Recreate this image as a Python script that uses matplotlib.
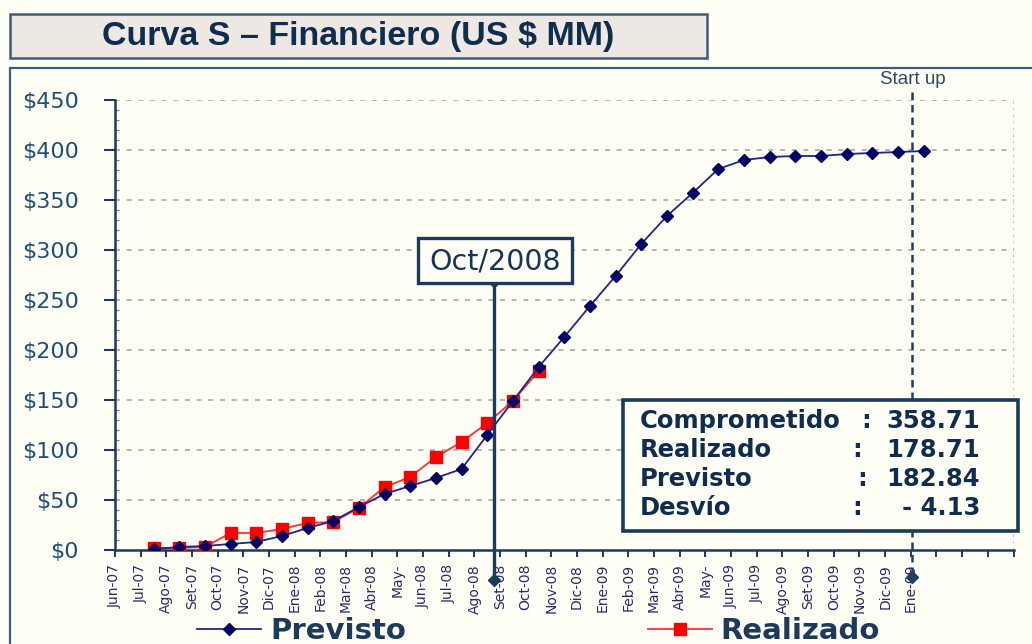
import matplotlib
matplotlib.use('Agg')
import matplotlib.pyplot as plt
from matplotlib.patches import Rectangle

# ---------------- data ----------------
months = ["Jun-07", "Jul-07", "Ago-07", "Set-07", "Oct-07", "Nov-07", "Dic-07",
          "Ene-08", "Feb-08", "Mar-08", "Abr-08", "May-", "Jun-08", "Jul-08",
          "Ago-08", "Set-08", "Oct-08", "Nov-08", "Dic-08", "Ene-09", "Feb-09",
          "Mar-09", "Abr-09", "May-", "Jun-09", "Jul-09", "Ago-09", "Set-09",
          "Oct-09", "Nov-09", "Dic-09", "Ene-09"]
previsto = [1, 3, 4, 6, 8, 14, 22, 29, 43, 56, 64, 72, 81, 115, 149, 182.84,
            213, 244, 274, 306, 334, 357, 381, 390, 393, 394, 394, 396, 397, 398, 399]
realizado = [2, 2, 3, 17, 17, 21, 27, 28, 42, 63, 73, 93, 108, 127, 149, 178.71]
y_ticks = [0, 50, 100, 150, 200, 250, 300, 350, 400, 450]
info_labels = ["Comprometido", "Realizado", "Previsto", "Desvío"]
info_values = ["358.71", "178.71", "182.84", "- 4.13"]
title = "Curva S – Financiero (US $ MM)"
callout_label = "Oct/2008"
startup_label = "Start up"

# ---------------- layout helpers ----------------
W, H = 1032, 644
def fx(x):
    return x / W
def fy(y):
    return 1 - y / H

BG = "#FFFFF6"
NAVY = "#1B3A5C"
fig = plt.figure(figsize=(W / 100, H / 100), dpi=100, facecolor=BG)

# outer frame
fig.patches.append(Rectangle((fx(10), fy(700)), fx(1100), fy(68) - fy(700),
                             transform=fig.transFigure, fill=False,
                             edgecolor="#3E5C7A", lw=1.6, zorder=0))
# title box
fig.patches.append(Rectangle((fx(10), fy(58)), fx(707) - fx(10), fy(14) - fy(58),
                             transform=fig.transFigure, facecolor="#EEE8E2",
                             edgecolor="#3E5C7A", lw=1.8, zorder=1))
fig.text(fx(358), fy(37), title, ha="center", va="center", fontsize=24.5,
         fontweight="bold", color="#0F2D50", family="Liberation Sans")

ax = fig.add_axes([fx(115), fy(550), fx(1013.5) - fx(115), fy(100) - fy(550)])
ax.set_facecolor(BG)
ax.set_xlim(0, 35)
ax.set_ylim(0, 450)

xp = [i + 1.5 for i in range(len(previsto))]
xr = [i + 1.5 for i in range(len(realizado))]

l1, = ax.plot(xp, previsto, color="#23238C", lw=1.3, marker="D", ms=6,
              mfc="#000066", mec="#000066", zorder=4, label="Previsto")
l2, = ax.plot(xr, realizado, color="#FF3030", lw=1.3, marker="s", ms=8,
              mfc="#FF0000", mec="#FF0000", zorder=3, label="Realizado")

# grid
for v in y_ticks[1:]:
    ax.axhline(v, color="#A8A8A8", lw=1.2, ls=(0, (3, 4)), zorder=1)
ax.axvline(35, color="#A8A8A8", lw=1.2, ls=(0, (1, 3)), zorder=1)

for s in ["top", "right"]:
    ax.spines[s].set_visible(False)
for s in ["left", "bottom"]:
    ax.spines[s].set_color(NAVY)
    ax.spines[s].set_linewidth(1.8)

ax.set_yticks(y_ticks)
ax.set_yticklabels([f"${v}" for v in y_ticks], fontsize=16, color="#1F4E79",
                   family="DejaVu Sans")
ax.set_yticks(range(0, 451, 10), minor=True)
ax.tick_params(axis="y", which="major", direction="out", length=8, width=1.5,
               color=NAVY, pad=18)
ax.tick_params(axis="y", which="minor", direction="in", length=3, width=0.8,
               color="#6A7F95")

ax.set_xticks(range(36))
ax.set_xticklabels(months + [""] * (36 - len(months)), rotation=90,
                   fontsize=10, color="#2A2A6A", family="DejaVu Sans")
ax.tick_params(axis="x", direction="out", length=5, width=1.4, color=NAVY, pad=5)

# Oct/2008 callout
cx = 14.77
ax.plot([cx, cx], [267, -30], color=NAVY, lw=2.4, clip_on=False, zorder=6)
ax.plot([cx], [267], marker="o", ms=4.5, color=NAVY, clip_on=False, zorder=7)
ax.plot([cx], [-30], marker="D", ms=6, color=NAVY, clip_on=False, zorder=7)
fig.patches.append(Rectangle((fx(418), fy(283)), fx(572) - fx(418), fy(238) - fy(283),
                             transform=fig.transFigure, facecolor=BG,
                             edgecolor=NAVY, lw=2.4, zorder=5))
fig.text(fx(495), fy(261), callout_label, ha="center", va="center", fontsize=20.5,
         color="#15355A", family="DejaVu Sans", zorder=6)

# Start up line
sx = 31.05
ax.plot([sx, sx], [458, -27], color="#1F4060", lw=1.8, ls=(0, (3, 2)),
        clip_on=False, zorder=5)
ax.plot([sx], [-27], marker="D", ms=6, color="#1F4060", clip_on=False, zorder=7)
fig.text(fx(913), fy(79), startup_label, ha="center", va="center", fontsize=13.5,
         color="#2C4A6A", family="Liberation Sans")

# info box
fig.patches.append(Rectangle((fx(623), fy(531)), fx(1018) - fx(623), fy(400) - fy(531),
                             transform=fig.transFigure, facecolor=BG,
                             edgecolor=NAVY, lw=2.6, zorder=5))
row_y = [421, 450, 479, 508]
colon_x = [866, 857, 862, 857]
for lab, val, yy, cxp in zip(info_labels, info_values, row_y, colon_x):
    fig.text(fx(640), fy(yy), lab, ha="left", va="center", fontsize=17.5,
             fontweight="bold", color="#0F2D50", family="DejaVu Sans", zorder=6)
    fig.text(fx(cxp), fy(yy), ":", ha="center", va="center", fontsize=17.5,
             fontweight="bold", color="#0F2D50", family="DejaVu Sans", zorder=6)
    fig.text(fx(980), fy(yy), val, ha="right", va="center", fontsize=17.5,
             fontweight="bold", color="#0F2D50", family="DejaVu Sans", zorder=6)

# legend
leg = fig.legend(handles=[l1, l2], loc="center left",
                 bbox_to_anchor=(fx(197), fy(631)), ncol=2, frameon=False,
                 prop={"family": "DejaVu Sans", "weight": "bold", "size": 21},
                 labelcolor="#1B3A5C", handlelength=2.2, handletextpad=0.3,
                 columnspacing=8.3, borderaxespad=0, borderpad=0)

fig.savefig("out.png", dpi=100, facecolor=BG)
